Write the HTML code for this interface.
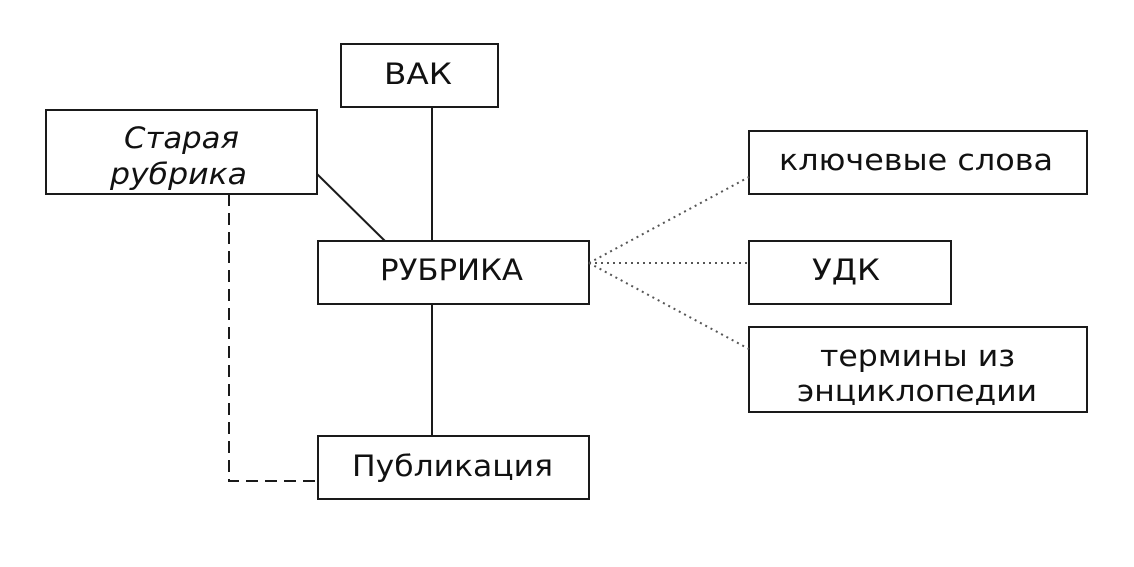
<!DOCTYPE html>
<html><head><meta charset="utf-8"><style>body{margin:0;background:#fff}svg{display:block}</style></head>
<body>
<svg width="1134" height="567" viewBox="0 0 1134 567" xmlns="http://www.w3.org/2000/svg" font-family="DejaVu Sans, sans-serif" font-size="29" fill="#111">
<g stroke="#1a1a1a" stroke-width="2" fill="none">
<rect x="341" y="44" width="157" height="63"/>
<rect x="46" y="110" width="271" height="84"/>
<rect x="318" y="241" width="271" height="63"/>
<rect x="318" y="436" width="271" height="63"/>
<rect x="749" y="131" width="338" height="63"/>
<rect x="749" y="241" width="202" height="63"/>
<rect x="749" y="327" width="338" height="85"/>
<line x1="432" y1="107" x2="432" y2="241"/>
<line x1="432" y1="304" x2="432" y2="436"/>
<line x1="317" y1="174" x2="385" y2="241"/>
<polyline points="229,194 229,481 318,481" stroke-dasharray="12,7"/>
<g stroke-dasharray="2,4" stroke="#555">
<line x1="589" y1="263" x2="749" y2="177"/>
<line x1="589" y1="263" x2="749" y2="263"/>
<line x1="589" y1="263" x2="749" y2="349"/>
</g>
</g>
<g stroke="none" lengthAdjust="spacingAndGlyphs">
<text x="384" y="84" textLength="68" lengthAdjust="spacingAndGlyphs">ВАК</text>
<text x="124" y="148" textLength="115" lengthAdjust="spacingAndGlyphs" font-style="italic">Старая</text>
<text x="110" y="184" textLength="137" lengthAdjust="spacingAndGlyphs" font-style="italic">рубрика</text>
<text x="380" y="280" textLength="143" lengthAdjust="spacingAndGlyphs">РУБРИКА</text>
<text x="352" y="476" textLength="201" lengthAdjust="spacingAndGlyphs">Публикация</text>
<text x="779" y="170" textLength="274" lengthAdjust="spacingAndGlyphs">ключевые слова</text>
<text x="812" y="280" textLength="68" lengthAdjust="spacingAndGlyphs">УДК</text>
<text x="820" y="366" textLength="195" lengthAdjust="spacingAndGlyphs">термины из</text>
<text x="797" y="401" textLength="240" lengthAdjust="spacingAndGlyphs">энциклопедии</text>
</g>
</svg>
</body></html>
